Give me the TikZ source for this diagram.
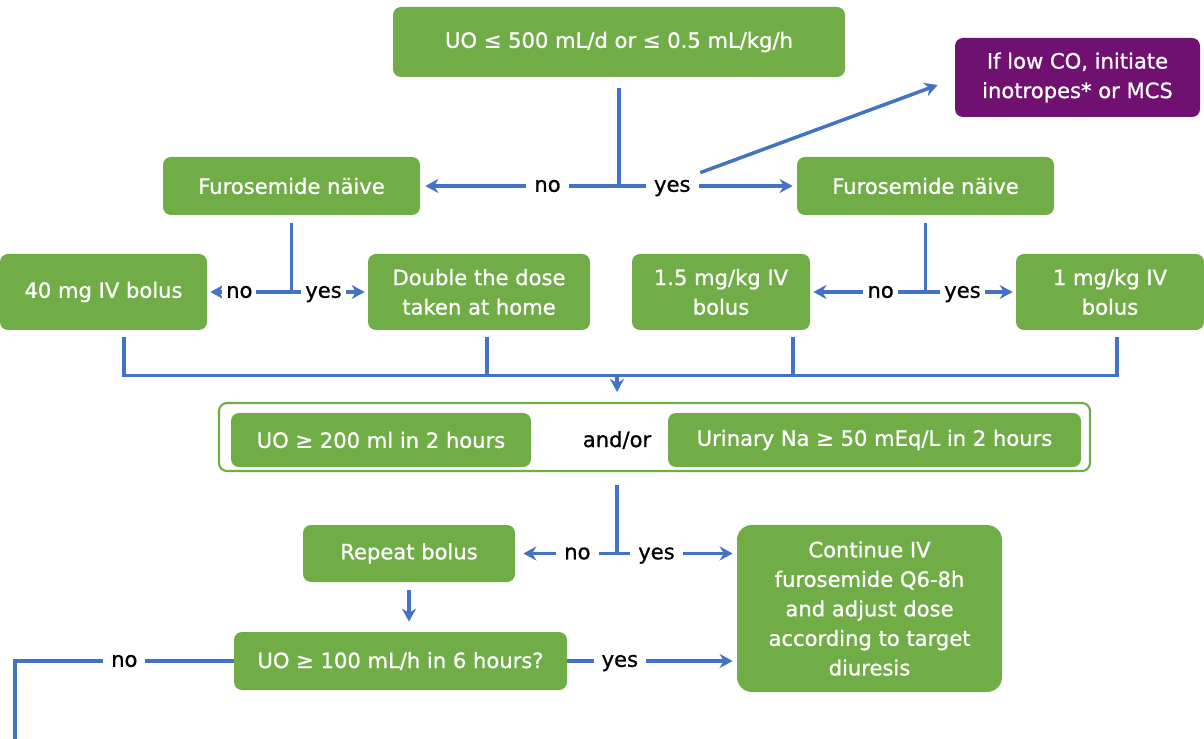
\documentclass[tikz,border=0pt]{standalone}
\usepackage{fontspec}
\setmainfont{DejaVu Sans}[FakeBold=0.9]
\usetikzlibrary{arrows.meta}

\definecolor{boxgreen}{RGB}{112,173,71}
\definecolor{boxpurple}{RGB}{112,16,112}
\definecolor{flowblue}{RGB}{68,114,196}

\begin{document}
\begin{tikzpicture}[x=0.2mm, y=-0.2mm, >={Stealth[length=2.6mm,width=2.8mm]},
    font=\fontsize{12}{16.8}\selectfont,
    box/.style={fill=boxgreen, text=white, rounded corners=1.6mm, align=center, inner sep=0pt},
    flow/.style={draw=flowblue, line width=2pt},
    lbl/.style={fill=white, text=black, inner xsep=1.6mm, inner ysep=0.4mm,
                text height=1.6ex, text depth=0.4ex},
    slbl/.style={lbl, inner xsep=0.8mm}]

  \useasboundingbox (0,0) rectangle (1204,739);

  % First check and the escalation box
  \node[box, minimum width=90.4mm, minimum height=14mm] (uo) at (619,42) {UO ≤ 500 mL/d or ≤ 0.5 mL/kg/h};
  \node[box, fill=boxpurple, minimum width=49mm, minimum height=15.8mm] (mcs) at (1077.5,77.5) {If low CO, initiate\\inotropes* or MCS};

  % Furosemide naive on both sides
  \node[box, minimum width=51.4mm, minimum height=11.6mm] (naiveL) at (291.5,186) {Furosemide näive};
  \node[box, minimum width=51.4mm, minimum height=11.6mm] (naiveR) at (925.5,186) {Furosemide näive};

  % Starting doses
  \node[box, minimum width=41.4mm, minimum height=15.2mm] (forty) at (103.5,292) {40 mg IV bolus};
  \node[box, minimum width=44.4mm, minimum height=15.2mm] (double) at (479,292) {Double the dose\\taken at home};
  \node[box, minimum width=35.6mm, minimum height=15.2mm] (onefive) at (721,292) {1.5 mg/kg IV\\bolus};
  \node[box, minimum width=37.6mm, minimum height=15.2mm] (onemg) at (1110,292) {1 mg/kg IV\\bolus};

  % Response after two hours
  \node[draw=boxgreen, line width=1.2pt, fill=white, rounded corners=1.6mm,
        minimum width=174.2mm, minimum height=13.6mm] (outer) at (654.5,437) {};
  \node[box, minimum width=60mm, minimum height=10.8mm] (uo200) at (381,440) {UO ≥ 200 ml in 2 hours};
  \node[box, minimum width=82.6mm, minimum height=10.8mm] (una) at (874.5,440) {Urinary Na ≥ 50 mEq/L in 2 hours};
  \node (andor) at (617,440) {and/or};

  % Follow-up
  \node[box, minimum width=42.4mm, minimum height=11.4mm] (repeat) at (409,553.5) {Repeat bolus};
  \node[box, minimum width=66.6mm, minimum height=11.6mm] (uo100) at (400.5,661) {UO ≥ 100 mL/h in 6 hours?};
  \node[box, rounded corners=3mm, minimum width=53mm, minimum height=33.4mm] (cont) at (869.5,608.5)
    {Continue IV\\furosemide Q6-8h\\and adjust dose\\according to target\\diuresis};

  % First split
  \coordinate (split) at (uo.south |- naiveL.east);
  \draw[flow] (uo.south) ++(0,11) -- (split);
  \draw[flow, ->, shorten >=1mm] (split) -- (naiveL.east) node[lbl, pos=.36] {no};
  \draw[flow, ->, shorten >=0.8mm] (split) -- (naiveR.west) node[lbl, pos=.30] (yes1) {yes};
  \draw[flow, ->] (yes1.north east) -- ([xshift=-3.4mm,yshift=-1.5mm]mcs.west);

  % Dose choice, left and right
  \coordinate (splitL) at (naiveL.south |- forty.east);
  \draw[flow] (naiveL.south) ++(0,8) -- (splitL);
  \draw[flow, ->, shorten >=0.6mm] (splitL) -- (forty.east) node[slbl, pos=.62] {no};
  \draw[flow, ->, shorten >=0.6mm] (splitL) -- (double.west) node[slbl, pos=.42] {yes};

  \coordinate (splitR) at (naiveR.south |- onefive.east);
  \draw[flow] (naiveR.south) ++(0,8) -- (splitR);
  \draw[flow, ->, shorten >=0.6mm] (splitR) -- (onefive.east) node[slbl, pos=.39] {no};
  \draw[flow, ->, shorten >=0.6mm] (splitR) -- (onemg.west) node[slbl, pos=.41] {yes};

  % Collecting bus
  \draw[flow] ([xshift=4.1mm,yshift=-1.4mm]forty.south) -- ++(0,38) -| ([xshift=1.4mm,yshift=-1.4mm]onemg.south);
  \draw[flow] ([xshift=1.6mm,yshift=-1.4mm]double.south) -- ++(0,38);
  \draw[flow] ([xshift=14.4mm,yshift=-1.4mm]onefive.south) -- ++(0,38);
  \draw[flow, ->, shorten >=2mm] (andor |- 0,375) -- (andor |- outer.north);

  % Second split
  \coordinate (splitB) at (andor |- repeat.east);
  \draw[flow] (andor |- outer.south) ++(0,13) -- (splitB);
  \draw[flow, ->, shorten >=1.6mm] (splitB) -- (repeat.east) node[lbl, pos=.39] {no};
  \draw[flow, ->, shorten >=0.8mm] (splitB) -- (splitB -| cont.west) node[lbl, pos=.33] {yes};
  \draw[flow, ->, shorten <=1.6mm, shorten >=2mm] (repeat.south) -- (repeat.south |- uo100.north);

  % Last check
  \coordinate (out) at (15,739);
  \draw[flow, ->, shorten >=0.8mm] (uo100.east) -- (uo100.east -| cont.west) node[lbl, pos=.31] {yes};
  \draw[flow] (uo100.west) -| (out) node[lbl, pos=.25] {no};

\end{tikzpicture}
\end{document}
